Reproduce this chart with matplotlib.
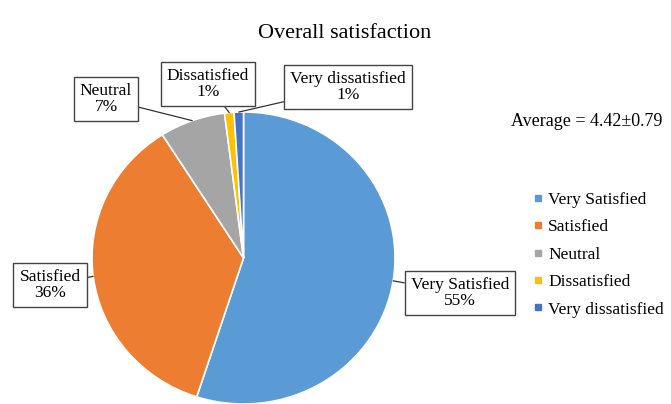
import matplotlib.pyplot as plt
import numpy as np
from matplotlib.lines import Line2D

# ---- Data ----
categories = ["Very Satisfied", "Satisfied", "Neutral", "Dissatisfied", "Very dissatisfied"]
label_names = ["Very Satisfied", "Satisfied", "Neutral", "Dissatisfied", "Very dissatisfied"]
percents = [55, 36, 7, 1, 1]
colors = ["#5B9BD5", "#ED7D31", "#A5A5A5", "#FFC000", "#4472C4"]
title = "Overall satisfaction"
average_text = "Average = 4.42\u00b10.79"

plt.rcParams['font.family'] = ['Liberation Serif', 'DejaVu Serif']

W, H = 671, 404
fig = plt.figure(figsize=(W / 100, H / 100), dpi=100)

# pie axes placed in pixel terms (center ~ (243, 258), slightly wide ellipse)
cx, cy, rx, ry = 243.5, 258, 151.5, 146
ax = fig.add_axes([(cx - rx) / W, (H - cy - ry) / H, 2 * rx / W, 2 * ry / H])
wedges, _ = ax.pie(percents, colors=colors, startangle=90, counterclock=False,
                   wedgeprops=dict(edgecolor="white", linewidth=1.2))
ax.set_aspect('auto')
ax.set_xlim(-1, 1)
ax.set_ylim(-1, 1)
ax.axis('off')
for w in wedges:
    w.set_clip_on(False)

fig.text(345 / W, 1 - 34 / H, title, ha='center', va='center', fontsize=16)
fig.text(662 / W, 1 - 122 / H, average_text, ha='right', va='center', fontsize=13)

# ---- Data labels with leader lines ----
box_pos = [(460, 293), (50, 285), (106, 99), (208, 84), (348, 87)]
mid_angles = []
start = 90
for p in percents:
    span = p / 100 * 360
    mid_angles.append(start - span / 2)
    start -= span

box_style = dict(boxstyle="square,pad=0.35", fc="white", ec="#444444", lw=1.0)
for i, (name, p) in enumerate(zip(label_names, percents)):
    a = np.deg2rad(mid_angles[i])
    px, py = np.cos(a), np.sin(a)
    bx, by = box_pos[i]
    ax.annotate(f"{name}\n{p}%", xy=(px, py), xycoords='data',
                xytext=(bx / W, 1 - by / H), textcoords='figure fraction',
                ha='center', va='center', fontsize=12.5, linespacing=1.05,
                bbox=box_style,
                arrowprops=dict(arrowstyle='-', color='#333333', lw=0.9,
                                shrinkA=0, shrinkB=0))

# ---- Legend ----
handles = [Line2D([], [], marker='s', ls='', color=c, markersize=4) for c in colors]
fig.legend(handles, categories, loc='upper left',
           bbox_to_anchor=(517 / W, 1 - 176 / H), frameon=False,
           fontsize=12.5, handlelength=0.6, handletextpad=0.3, labelspacing=0.65)

fig.savefig("out.png", dpi=100)
